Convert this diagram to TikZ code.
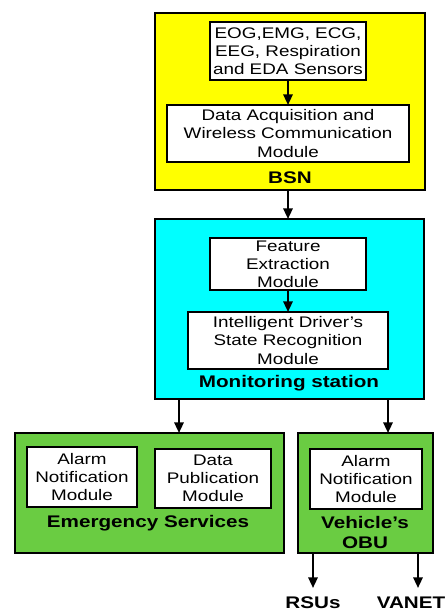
\documentclass[tikz,border=0pt]{standalone}
\usepackage{fontspec}
\usetikzlibrary{arrows.meta}
\newfontfamily\diagfont[FakeStretch=1.23]{Liberation Sans}
\definecolor{bsnyellow}{RGB}{255,255,0}
\definecolor{moncyan}{RGB}{0,255,255}
\definecolor{esgreen}{RGB}{106,204,66}

\tikzset{every picture/.style={line width=0.75pt}}
\tikzset{
  group/.style={draw=black,line width=1.6pt,outer sep=0pt,inner sep=0pt},
  module/.style={draw=black,fill=white,line width=1.6pt,outer sep=0pt,inner sep=1pt,align=center,
    font=\diagfont\fontsize{11.5pt}{13.6pt}\selectfont},
  title/.style={inner sep=0.75pt,align=center,font=\diagfont\bfseries\fontsize{12.6pt}{14.4pt}\selectfont},
  link/.style={line width=1.6pt,-{Triangle[length=8pt,width=7pt]}}
}

\begin{document}
\begin{tikzpicture}[x=0.75pt,y=0.75pt,yscale=-1,xscale=1]
\useasboundingbox (0,0) rectangle (445,613);

%Shape: Rectangle [BSN]
\node [group,fill=bsnyellow,minimum width=270*0.75pt,minimum height=177*0.75pt] (bsn) at (290,101.5) {};
%Shape: Rectangle [Monitoring station]
\node [group,fill=moncyan,minimum width=269*0.75pt,minimum height=180*0.75pt] (mon) at (289.5,309) {};
%Shape: Rectangle [Emergency Services]
\node [group,fill=esgreen,minimum width=269*0.75pt,minimum height=120*0.75pt] (ems) at (149.5,493) {};
%Shape: Rectangle [Vehicle's OBU]
\node [group,fill=esgreen,minimum width=135*0.75pt,minimum height=120*0.75pt] (obu) at (365.5,493) {};

% Modules
\node [module,minimum width=156*0.75pt,minimum height=58*0.75pt] (sensors) at (288,51) {EOG,EMG, ECG,\\EEG, Respiration\\and EDA Sensors};
\node [module,minimum width=242*0.75pt,minimum height=57*0.75pt] (daq) at (288,133.5) {Data Acquisition and\\Wireless Communication\\Module};
\node [module,minimum width=156*0.75pt,minimum height=52*0.75pt] (feat) at (288,264) {Feature\\Extraction\\Module};
\node [module,minimum width=200*0.75pt,minimum height=57*0.75pt] (idsr) at (288,340.5) {Intelligent Driver’s\\State Recognition\\Module};
\node [module,minimum width=110*0.75pt,minimum height=60*0.75pt] (alarmes) at (82,477) {Alarm\\Notification\\Module};
\node [module,minimum width=116*0.75pt,minimum height=59*0.75pt] (datapub) at (213,478.5) {Data\\Publication\\Module};
\node [module,minimum width=112*0.75pt,minimum height=60*0.75pt] (alarmobu) at (366,479) {Alarm\\Notification\\Module};

% Text Node
\node [title] (bsnlbl) at (290,178) {BSN};
% Text Node
\node [title] (monlbl) at (289,383) {Monitoring station};
% Text Node
\node [title] (emslbl) at (148,523) {Emergency Services};
% Text Node
\node [title] (obulbl) at (365,532.5) {Vehicle’s\\OBU};
% Text Node
\node [title] (rsu) at (313,603) {RSUs};
% Text Node
\node [title] (vanet) at (411,603) {VANET};

% Arrows
\coordinate (emsin) at (179,433);
\coordinate (obuin) at (388,433);
\coordinate (rsuend) at (313,588);
\coordinate (vanetend) at (418,588);

\draw [link] (sensors) -- (daq);
\draw [link] (bsn.south -| daq) -- (mon.north -| daq);
\draw [link] (feat) -- (idsr);
\draw [link] (emsin |- mon.south) -- (emsin);
\draw [link] (obuin |- mon.south) -- (obuin);
\draw [link] (rsuend |- obu.south) -- (rsuend);
\draw [link] (vanetend |- obu.south) -- (vanetend);

\end{tikzpicture}
\end{document}
